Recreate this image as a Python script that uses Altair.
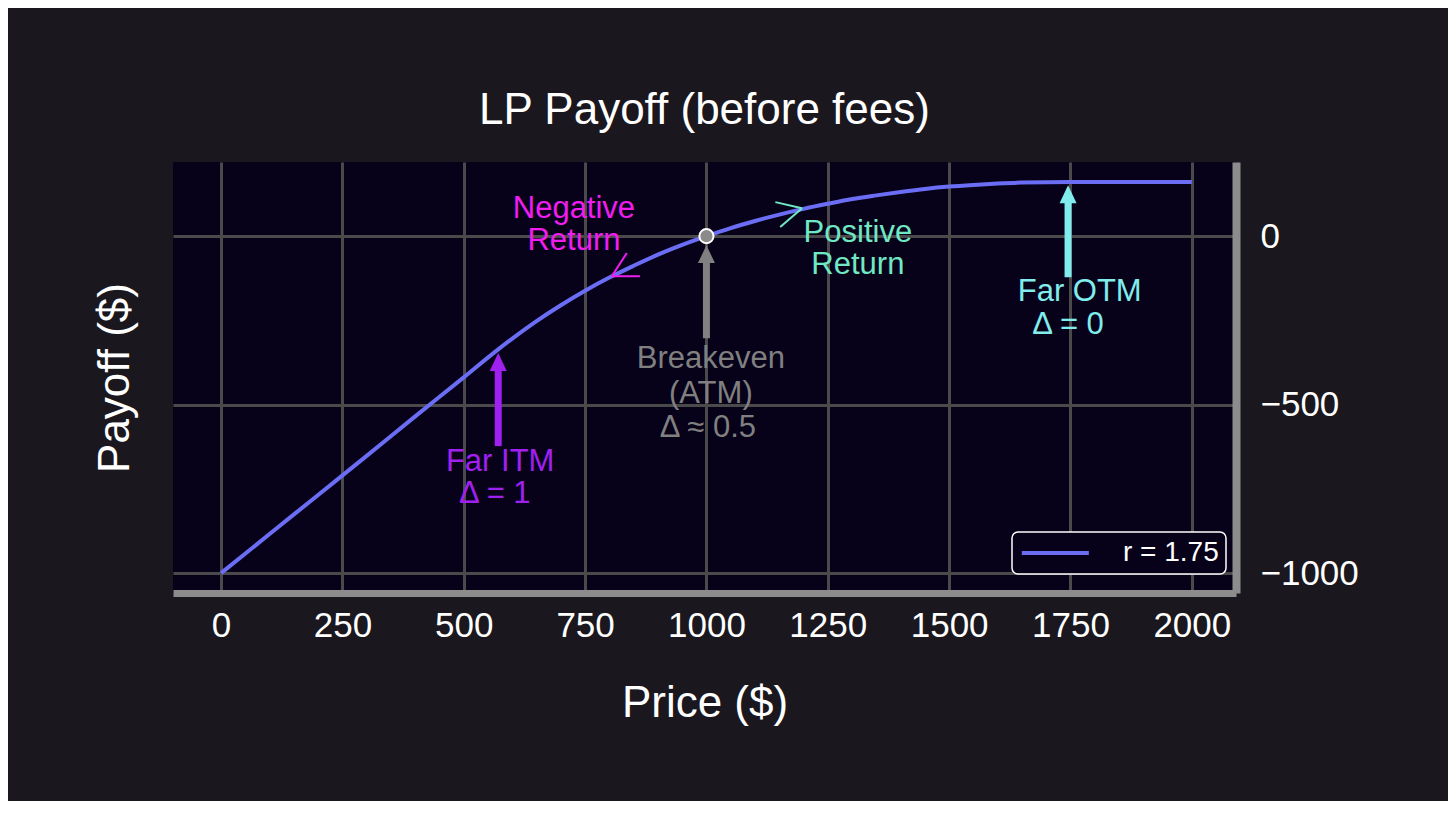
import altair as alt
import pandas as pd

# ---- data ----
price = [0, 100, 200, 300, 400, 500, 571, 600, 650, 700, 750, 800, 850, 900, 950,
         1000, 1050, 1100, 1150, 1200, 1250, 1300, 1350, 1400, 1450, 1500, 1550,
         1600, 1650, 1750, 2000]
payoff = [-1000, -884, -768, -652, -535, -419, -336, -304, -252, -205, -162, -123, -88,
          -55, -26, 0, 24, 45, 64, 81, 96, 110, 121, 131, 140, 147, 152, 156, 159, 161, 161]
series_name = "r = 1.75"

x_ticks = [0, 250, 500, 750, 1000, 1250, 1500, 1750, 2000]
y_ticks = [-1000, -500, 0]

# annotation texts (line, x, y, colour)
ann_text = ["Negative", "Return", "Positive", "Return", "Breakeven", "(ATM)", "Δ ≈ 0.5",
            "Far ITM", "Δ = 1", "Far OTM", "Δ = 0"]
ann_x = [727, 727, 1312, 1312, 1009, 1009, 1003, 575, 564, 1769, 1745]
ann_y = [80, -15, 9, -86, -365, -469, -570, -671, -766, -166, -264]
ann_col = ["#f01df0", "#f01df0", "#70e8c4", "#70e8c4", "#808080", "#808080", "#808080",
           "#a020f0", "#a020f0", "#80ecec", "#80ecec"]

# fat arrows: x, tail y, head-base y, tip y, colour
arr_x = [571, 1000, 1745]
arr_tail = [-623, -303, -122]
arr_base = [-400, -78, 100]
arr_tip = [-347, -27, 151]
arr_col = ["#a020f0", "#808080", "#80ecec"]

# thin open arrow heads: tip and arm ends
head_x = [805, 805, 1197, 1197]
head_y = [-119, -119, 83, 83]
head_x2 = [863, 836, 1142, 1152]
head_y2 = [-119, -50, 101, 27]
head_col = ["#f01df0", "#f01df0", "#70e8c4", "#70e8c4"]

be_x = [1000]
be_y = [0]

# ---- styling ----
BG = "#1a181e"
PLOT_BG = "#07021a"
LINE = "#6b6ef5"
FONT = "Liberation Sans"

curve = pd.DataFrame({"price": price, "payoff": payoff, "series": series_name})
ann = pd.DataFrame({"t": ann_text, "x": ann_x, "y": ann_y, "c": ann_col})
arr = pd.DataFrame({"x": arr_x, "tail": arr_tail, "base": arr_base, "tip": arr_tip, "c": arr_col})
heads = pd.DataFrame({"x": head_x, "y": head_y, "x2": head_x2, "y2": head_y2, "c": head_col})
be = pd.DataFrame({"x": be_x, "y": be_y})

xs = alt.Scale(domain=[-99, 2091], nice=False, zero=False)
ys = alt.Scale(domain=[-1059, 220], nice=False, zero=False)

x_axis = alt.Axis(values=x_ticks, title="Price ($)", grid=True, gridColor="#4a4a4a",
                  gridWidth=3, ticks=False, labelPadding=15, domainColor="#8c8c8c",
                  domainWidth=7, titlePadding=38, format="d")
y_axis = alt.Axis(values=y_ticks, orient="right", title=None, grid=True, gridColor="#4a4a4a",
                  gridWidth=3, ticks=False, labelPadding=24, domainColor="#8c8c8c",
                  domainWidth=8, format="d", labelBaseline="middle")
y_axis_left = alt.Axis(orient="left", title="Payoff ($)", labels=False, ticks=False,
                       domain=False, grid=False, titlePadding=36)

X = alt.X("price:Q", scale=xs, axis=x_axis)


def Xn(f):
    return alt.X(f, scale=xs)


def Yn(f):
    return alt.Y(f, scale=ys, axis=None)


line = alt.Chart(curve).mark_line(strokeWidth=4, interpolate="monotone").encode(
    x=X,
    y=alt.Y("payoff:Q", scale=ys, axis=y_axis),
    color=alt.Color("series:N", scale=alt.Scale(range=[LINE]),
                    legend=alt.Legend(title=None, orient="none", legendX=839, legendY=370)),
)

left_title = alt.Chart(curve).mark_point(opacity=0).encode(
    x=Xn("price:Q"),
    y=alt.Y("payoff:Q", scale=ys, axis=y_axis_left),
)

shafts = alt.Chart(arr).mark_rule(strokeWidth=7).encode(
    x=Xn("x:Q"), y=Yn("tail:Q"), y2="base:Q",
    color=alt.Color("c:N", scale=None),
)
tips = alt.Chart(arr).mark_point(shape="M-1,2.1L0,0L1,2.1Z", filled=True, opacity=1,
                                 size=290).encode(
    x=Xn("x:Q"), y=Yn("tip:Q"),
    color=alt.Color("c:N", scale=None),
)
thin = alt.Chart(heads).mark_rule(strokeWidth=2).encode(
    x=Xn("x:Q"), y=Yn("y:Q"), x2="x2:Q", y2="y2:Q",
    color=alt.Color("c:N", scale=None),
)
point = alt.Chart(be).mark_point(filled=True, size=200, fill="#8a8a8a", stroke="white",
                                 strokeWidth=2, opacity=1).encode(
    x=Xn("x:Q"), y=Yn("y:Q"),
)
texts = alt.Chart(ann).mark_text(fontSize=31, font=FONT, baseline="middle",
                                 align="center").encode(
    x=Xn("x:Q"), y=Yn("y:Q"), text="t:N",
    color=alt.Color("c:N", scale=None),
)

chart = alt.layer(line, left_title, shafts, tips, thin, point, texts).resolve_axis(
    y="independent"
).properties(
    width=1063, height=431,
    padding={"left": 165, "top": 154, "right": 212, "bottom": 208},
    autosize=alt.AutoSizeParams(type="none"),
    title=alt.TitleParams("LP Payoff (before fees)", fontSize=44, font=FONT, color="white",
                          fontWeight="normal", anchor="middle", baseline="bottom", offset=-15),
    background=BG,
).configure_view(
    fill=PLOT_BG, strokeWidth=0
).configure_axis(
    labelFont=FONT, labelFontSize=35, labelColor="white", titleFont=FONT, titleFontSize=44,
    titleColor="white", titleFontWeight="normal",
).configure_legend(
    strokeColor="white", fillColor=PLOT_BG, cornerRadius=6, padding=7, labelFont=FONT,
    labelFontSize=28, labelColor="white", symbolType="M-1,0L5,0", symbolStrokeWidth=4,
    symbolSize=499, labelOffset=76, strokeWidth=1.5,
)

chart.save("out.html", embed_options={"renderer": "svg", "actions": False})
